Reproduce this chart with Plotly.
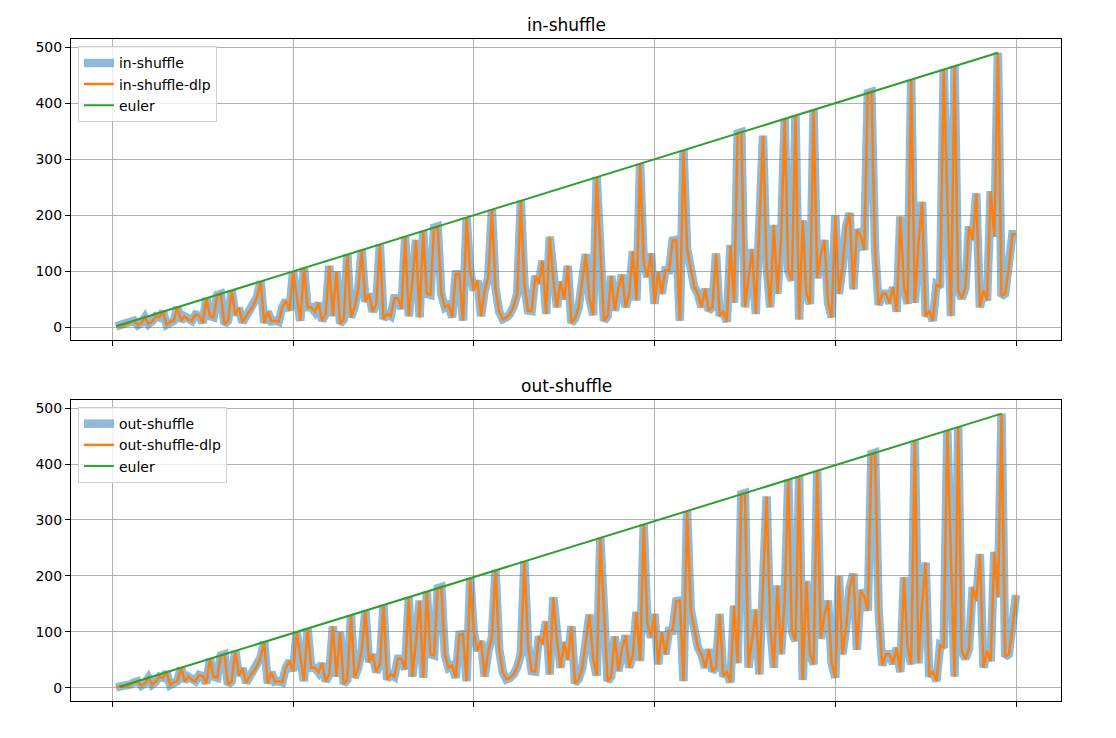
import plotly.graph_objects as go

# Deck sizes (even, 2..500)
deck_sizes = list(range(2, 501, 2))

# Multiplicative order of 2 modulo odd m, m = 1, 3, 5, ..., 501 (read values)
order_by_odd_m = [
    1, 2, 4, 3, 6, 10, 12, 4, 8, 18,
    6, 11, 20, 18, 28, 5, 10, 12, 36, 12,
    20, 14, 12, 23, 21, 8, 52, 20, 18, 58,
    60, 6, 12, 66, 22, 35, 9, 20, 30, 39,
    54, 82, 8, 28, 11, 12, 10, 36, 48, 30,
    100, 51, 12, 106, 36, 36, 28, 44, 12, 24,
    110, 20, 100, 7, 14, 130, 18, 36, 68, 138,
    46, 60, 28, 42, 148, 15, 24, 20, 52, 52,
    33, 162, 20, 83, 156, 18, 172, 60, 58, 178,
    180, 60, 36, 40, 18, 95, 96, 12, 196, 99,
    66, 84, 20, 66, 90, 210, 70, 28, 15, 18,
    24, 37, 60, 226, 76, 30, 29, 92, 78, 119,
    24, 162, 84, 36, 82, 50, 110, 8, 16, 36,
    84, 131, 52, 22, 268, 135, 12, 20, 92, 30,
    70, 94, 36, 60, 136, 48, 292, 116, 90, 132,
    42, 100, 60, 102, 102, 155, 156, 12, 316, 140,
    106, 72, 60, 36, 69, 30, 36, 132, 21, 28,
    10, 147, 44, 346, 348, 36, 88, 140, 24, 179,
    342, 110, 36, 183, 60, 156, 372, 100, 84, 378,
    14, 191, 60, 42, 388, 88, 130, 156, 44, 18,
    200, 60, 108, 180, 204, 68, 174, 164, 138, 418,
    420, 138, 40, 60, 60, 43, 72, 28, 198, 73,
    42, 442, 44, 148, 224, 20, 30, 12, 76, 72,
    460, 231, 20, 466, 66, 52, 70, 180, 156, 239,
    36, 66, 48, 243, 162, 490, 56, 60, 105, 166,
    166,
]

# in-shuffle of d cards: order of 2 mod (d+1); out-shuffle: order of 2 mod (d-1)
in_shuffle = order_by_odd_m[1:]
in_shuffle_dlp = order_by_odd_m[1:]
out_shuffle = order_by_odd_m[:-1]
out_shuffle_dlp = order_by_odd_m[:-1]

euler_in_x = [2, 490]
euler_in_y = [2, 490]
euler_out_x = [4, 492]
euler_out_y = [2, 490]

titles = ["in-shuffle", "out-shuffle"]
x_ticks = [0, 100, 200, 300, 400, 500]
y_ticks = [0, 100, 200, 300, 400, 500]

BLUE = "rgba(31,119,180,0.5)"
ORANGE = "#ff7f0e"
GREEN = "#2ca02c"
FONT = "DejaVu Sans"

fig = go.Figure()

panels = [
    ("in-shuffle", in_shuffle, "in-shuffle-dlp", in_shuffle_dlp, euler_in_x, euler_in_y, "x", "y", "legend"),
    ("out-shuffle", out_shuffle, "out-shuffle-dlp", out_shuffle_dlp, euler_out_x, euler_out_y, "x2", "y2", "legend2"),
]
for name, vals, dname, dvals, ex, ey, xa, ya, lg in panels:
    fig.add_trace(go.Scatter(x=deck_sizes, y=vals, mode="lines", name=name,
                             line=dict(color=BLUE, width=8.5), xaxis=xa, yaxis=ya, legend=lg))
    fig.add_trace(go.Scatter(x=deck_sizes, y=dvals, mode="lines", name=dname,
                             line=dict(color=ORANGE, width=2.5), xaxis=xa, yaxis=ya, legend=lg))
    fig.add_trace(go.Scatter(x=ex, y=ey, mode="lines", name="euler",
                             line=dict(color=GREEN, width=2), xaxis=xa, yaxis=ya, legend=lg))

top_dom = [0.5453, 1.0]
bot_dom = [0.0, 0.4547]

axis_common = dict(showline=True, linecolor="black", linewidth=1, mirror=True,
                   showgrid=True, gridcolor="#b0b0b0", gridwidth=0.8,
                   ticks="outside", ticklen=5, tickcolor="black", tickwidth=1,
                   zeroline=False, tickfont=dict(family=FONT, size=14, color="black"))

fig.update_layout(
    width=1116, height=738,
    margin=dict(l=63, r=63, t=31, b=45),
    paper_bgcolor="white", plot_bgcolor="white",
    font=dict(family=FONT, color="black"),
    xaxis=dict(domain=[0, 1], anchor="y", range=[-22.9, 524.9], tickvals=x_ticks,
               showticklabels=False, **axis_common),
    yaxis=dict(domain=top_dom, anchor="x", range=[-22.4, 514.4], tickvals=y_ticks, **axis_common),
    xaxis2=dict(domain=[0, 1], anchor="y2", range=[-22.9, 524.9], tickvals=x_ticks,
                showticklabels=False, **axis_common),
    yaxis2=dict(domain=bot_dom, anchor="x2", range=[-23.45, 514.45], tickvals=y_ticks, **axis_common),
    legend=dict(x=0.007, y=0.989, xanchor="left", yanchor="top",
                bgcolor="rgba(255,255,255,0.8)", bordercolor="#d0d0d0", borderwidth=1,
                font=dict(family=FONT, size=14, color="black"), itemwidth=30),
    legend2=dict(x=0.007, y=0.444, xanchor="left", yanchor="top",
                 bgcolor="rgba(255,255,255,0.8)", bordercolor="#d0d0d0", borderwidth=1,
                 font=dict(family=FONT, size=14, color="black"), itemwidth=30),
    showlegend=True,
)

fig.add_annotation(text=titles[0], x=0.5, y=1.021, xref="paper", yref="paper",
                   showarrow=False, xanchor="center", yanchor="middle",
                   font=dict(family=FONT, size=17, color="black"))
fig.add_annotation(text=titles[1], x=0.5, y=0.476, xref="paper", yref="paper",
                   showarrow=False, xanchor="center", yanchor="middle",
                   font=dict(family=FONT, size=17, color="black"))

fig.write_html("out.html")
